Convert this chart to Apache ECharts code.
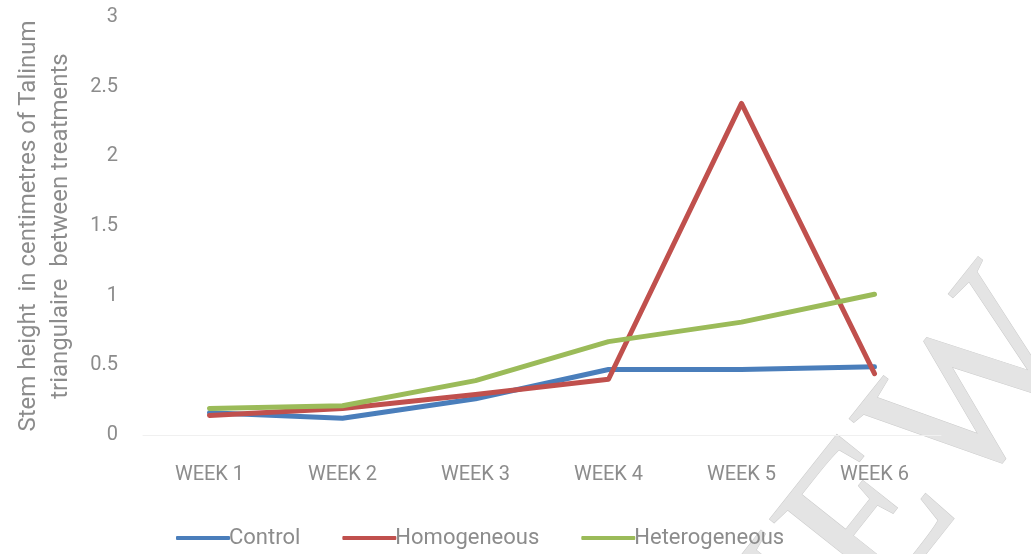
<!DOCTYPE html>
<html>
<head>
<meta charset="utf-8">
<script src="https://cdn.jsdelivr.net/npm/echarts@6/dist/echarts.min.js"></script>
<style>
html, body { margin: 0; padding: 0; background: #fff; }
#myChart { width: 1031px; height: 554px; }
</style>
</head>
<body>
<div id="myChart"></div>
<script>
var weeks = ['WEEK 1', 'WEEK 2', 'WEEK 3', 'WEEK 4', 'WEEK 5', 'WEEK 6']
var control = [0.16, 0.12, 0.26, 0.47, 0.47, 0.49]
var homogeneous = [0.14, 0.19, 0.29, 0.40, 2.38, 0.44]
var heterogeneous = [0.19, 0.21, 0.39, 0.67, 0.81, 1.01]

var font = "'Roboto', sans-serif"
var grey = '#8c8c8c'

var myChart = echarts.init(document.getElementById('myChart'))
var option = {
	animation: false,
	textStyle: { fontFamily: font },
	grid: {
		left: 143,
		right: 90,
		top: 17,
		bottom: 119
	},
	legend: {
		bottom: 0,
		left: 171,
		itemWidth: 54,
		itemHeight: 4,
		itemGap: 42,
		icon: 'roundRect',
		textStyle: { color: grey, fontSize: 22, fontFamily: font, padding: [0, 0, 0, -6] },
		data: ['Control', 'Homogeneous', 'Heterogeneous']
	},
	xAxis: {
		type: 'category',
		data: weeks,
		boundaryGap: true,
		axisTick: { show: false },
		axisLine: { lineStyle: { color: '#f0f0f0', width: 1 } },
		axisLabel: { color: grey, fontSize: 20, margin: 30 }
	},
	yAxis: {
		type: 'value',
		min: 0,
		max: 3,
		interval: 0.5,
		name: 'Stem height  in centimetres of Talinum\ntriangulaire  between treatments',
		nameLocation: 'middle',
		nameGap: 66,
		nameTextStyle: { color: grey, fontSize: 24, lineHeight: 32, fontFamily: font },
		splitLine: { show: false },
		axisLine: { show: false },
		axisTick: { show: false },
		axisLabel: { color: grey, fontSize: 20, margin: 25 }
	},
	series: [
		{
			name: 'Control',
			type: 'line',
			data: control,
			showSymbol: false,
			color: '#4a7ebb',
			lineStyle: { width: 5, cap: 'round', join: 'round' }
		},
		{
			name: 'Homogeneous',
			type: 'line',
			data: homogeneous,
			showSymbol: false,
			color: '#c0504d',
			lineStyle: { width: 5, cap: 'round', join: 'round' }
		},
		{
			name: 'Heterogeneous',
			type: 'line',
			data: heterogeneous,
			showSymbol: false,
			color: '#9bbb59',
			lineStyle: { width: 5, cap: 'round', join: 'round' }
		}
	],
	graphic: [{
		type: 'text',
		x: 780,
		y: 645,
		rotation: 0.9,
		z: -1,
		style: {
			text: 'REVIEW',
			font: "220px 'Liberation Serif', serif",
			fill: '#e4e4e4',
			stroke: '#cacaca',
			lineWidth: 1,
			align: 'center',
			verticalAlign: 'middle'
		}
	}]
}
myChart.setOption(option)
</script>
</body>
</html>
